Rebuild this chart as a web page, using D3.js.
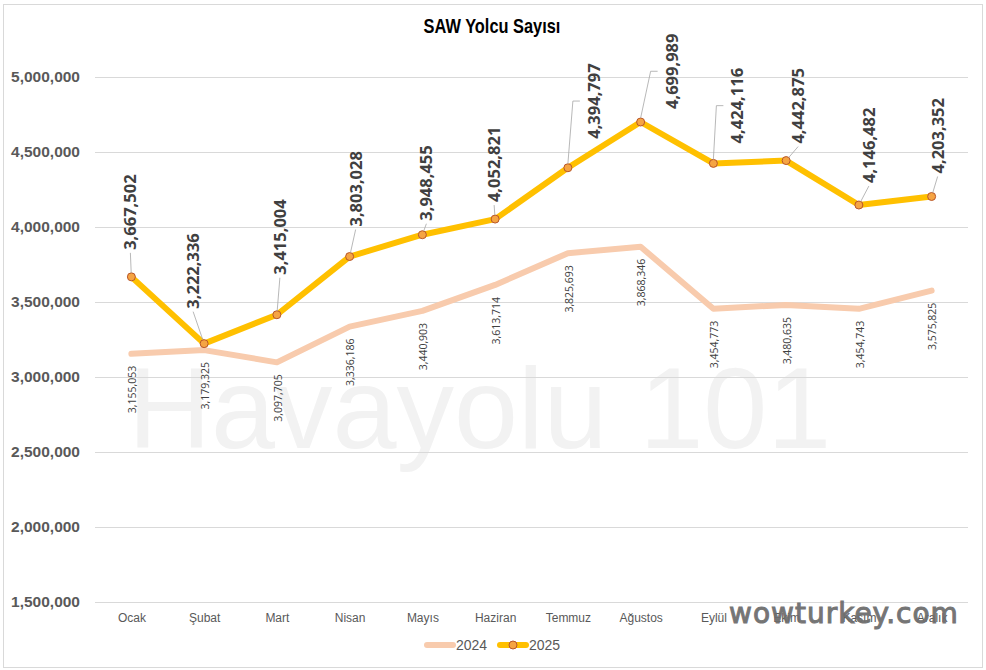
<!DOCTYPE html>
<html>
<head>
<meta charset="utf-8">
<script src="https://cdn.jsdelivr.net/npm/d3@7/dist/d3.min.js"></script>
<style>
  html, body { margin: 0; padding: 0; background: #fff; }
  svg { display: block; }
</style>
</head>
<body>
<svg id="chart" width="986" height="670"></svg>
<script>
const months = ["Ocak","Şubat","Mart","Nisan","Mayıs","Haziran","Temmuz","Ağustos","Eylül","Ekim","Kasım","Aralık"];
const values2024 = [3155053,3179325,3097705,3336186,3440903,3613714,3825693,3868346,3454773,3480635,3454743,3575825];
const values2025 = [3667502,3222336,3415004,3803028,3948455,4052821,4394797,4699989,4424116,4442875,4146482,4203352];
const yTicks = [1500000,2000000,2500000,3000000,3500000,4000000,4500000,5000000];
const seriesNames = ["2024","2025"];
// label layout nudges for 2025 data labels (dx, dy from point)
const labelNudge2025 = [[-1,-27],[-11,-35],[3,-40],[6,-30],[4,-14],[-1,-17],[26,-29],[31,-13],[24,-20],[12,-17],[10,-22],[6,-23]];

(function(){
const svg = d3.select("#chart");
const pL = 95, pR = 968, pT = 77, pB = 602;

const fmt = d3.format(",");

// chart border
svg.append("rect").attr("x",3.5).attr("y",4.5).attr("width",979).attr("height",663)
  .attr("fill","#fff").attr("stroke","#D9D9D9").attr("stroke-width",1);

const x = d3.scalePoint().domain(months).range([pL, pR]).padding(0.5);
const y = d3.scaleLinear().domain([1500000, 5000000]).range([pB, pT]);

// watermark
svg.append("text").attr("x",128).attr("y",448)
  .attr("font-family","'Liberation Sans', Arial, sans-serif").attr("font-size",115)
  .attr("fill","#F2F2F2").text("Havayolu 101");

// gridlines
svg.append("g").selectAll("line").data(yTicks).join("line")
  .attr("x1",pL).attr("x2",pR)
  .attr("y1",d=>Math.round(y(d))+0.5).attr("y2",d=>Math.round(y(d))+0.5)
  .attr("stroke","#D9D9D9").attr("stroke-width",1);

// y axis labels
const yAxis = d3.axisLeft(y).tickValues(yTicks).tickFormat(fmt).tickSize(0).tickPadding(0);
const gy = svg.append("g").attr("transform",`translate(80,0)`).call(yAxis);
gy.select(".domain").remove();
gy.selectAll("text").attr("font-family","'Liberation Sans', Arial, sans-serif")
  .attr("font-size",15.5).attr("font-weight","bold").attr("fill","#595959");

// x axis labels
const xAxis = d3.axisBottom(x).tickSize(0).tickPadding(0);
const gx = svg.append("g").attr("transform",`translate(0,613)`).call(xAxis);
gx.select(".domain").remove();
gx.selectAll("text").attr("font-family","'Liberation Sans', Arial, sans-serif")
  .attr("font-size",12).attr("fill","#595959");

// lines
const line = d3.line().x((d,i)=>x(months[i])).y(d=>y(d));
svg.append("path").datum(values2024).attr("d",line)
  .attr("fill","none").attr("stroke","#F8CBAD").attr("stroke-width",6)
  .attr("stroke-linejoin","round").attr("stroke-linecap","round");
svg.append("path").datum(values2025).attr("d",line)
  .attr("fill","none").attr("stroke","#FFC000").attr("stroke-width",6)
  .attr("stroke-linejoin","round").attr("stroke-linecap","round");

// markers 2025
svg.append("g").selectAll("circle").data(values2025).join("circle")
  .attr("cx",(d,i)=>x(months[i])).attr("cy",d=>y(d)).attr("r",4)
  .attr("fill","#F5A443").attr("stroke","#B8562B").attr("stroke-width",1);

// 2024 labels
svg.append("g").selectAll("text").data(values2024).join("text")
  .attr("transform",(d,i)=>`translate(${x(months[i])+1},${y(d)+12}) rotate(-90)`)
  .attr("text-anchor","end").attr("dy","0.35em")
  .attr("font-family","'Open Sans', sans-serif").attr("font-size",10.5)
  .attr("fill","#404040").text(d=>fmt(d));

// 2025 labels
const g25 = svg.append("g");
const leaders = svg.append("g");
values2025.forEach((v,i)=>{
  const px = x(months[i]), py = y(v);
  const lx = px + labelNudge2025[i][0], ly = py + labelNudge2025[i][1];
  const t = g25.append("text")
    .attr("transform",`translate(${lx},${ly}) rotate(-90)`)
    .attr("text-anchor","start").attr("dy","0.36em")
    .attr("font-family","'Open Sans', sans-serif").attr("font-size",16.5).attr("font-weight","bold")
    .attr("fill","#404040").text(fmt(v));
  const len = t.node().getComputedTextLength();
  const dx = lx - px;
  let p;
  if (dx > 20) {
    const mid = ly - len/2;
    p = `M${px},${py-4}L${lx-21},${mid}L${lx-14},${mid}`;
  } else {
    const ex = lx, ey = ly + 3;
    const dist = Math.hypot(ex-px, ey-py);
    if (dist < 6) return;
    const sx = px + (ex-px)/dist*4, sy = py + (ey-py)/dist*4;
    p = `M${sx},${sy}L${ex},${ey}`;
  }
  leaders.append("path").attr("d",p).attr("fill","none")
    .attr("stroke","#A6A6A6").attr("stroke-width",0.8);
});

// title
svg.append("text").attr("transform","translate(492,33) scale(0.84,1)").attr("text-anchor","middle")
  .attr("font-family","'Liberation Sans', Arial, sans-serif").attr("font-size",19.5)
  .attr("font-weight","bold").attr("fill","#000").text("SAW Yolcu Sayısı");

// legend
const lg = svg.append("g");
lg.append("line").attr("x1",427).attr("x2",453).attr("y1",645).attr("y2",645)
  .attr("stroke","#F8CBAD").attr("stroke-width",6).attr("stroke-linecap","round");
lg.append("text").attr("x",456).attr("y",650).attr("font-family","'Liberation Sans', Arial, sans-serif")
  .attr("font-size",14).attr("fill","#595959").text(seriesNames[0]);
lg.append("line").attr("x1",500).attr("x2",526).attr("y1",645).attr("y2",645)
  .attr("stroke","#FFC000").attr("stroke-width",6).attr("stroke-linecap","round");
lg.append("circle").attr("cx",513).attr("cy",645).attr("r",4)
  .attr("fill","#F5A443").attr("stroke","#B8562B").attr("stroke-width",1);
lg.append("text").attr("x",529).attr("y",650).attr("font-family","'Liberation Sans', Arial, sans-serif")
  .attr("font-size",14).attr("fill","#595959").text(seriesNames[1]);

// wowturkey watermark
svg.append("text").attr("x",729).attr("y",623)
  .attr("font-family","'DejaVu Sans', sans-serif").attr("font-size",28).attr("letter-spacing",1)
  .attr("fill","#6E6E6E").attr("stroke","#6E6E6E").attr("stroke-width",1)
  .attr("opacity",0.95).text("wowturkey.com");
})();
</script>
</body>
</html>
